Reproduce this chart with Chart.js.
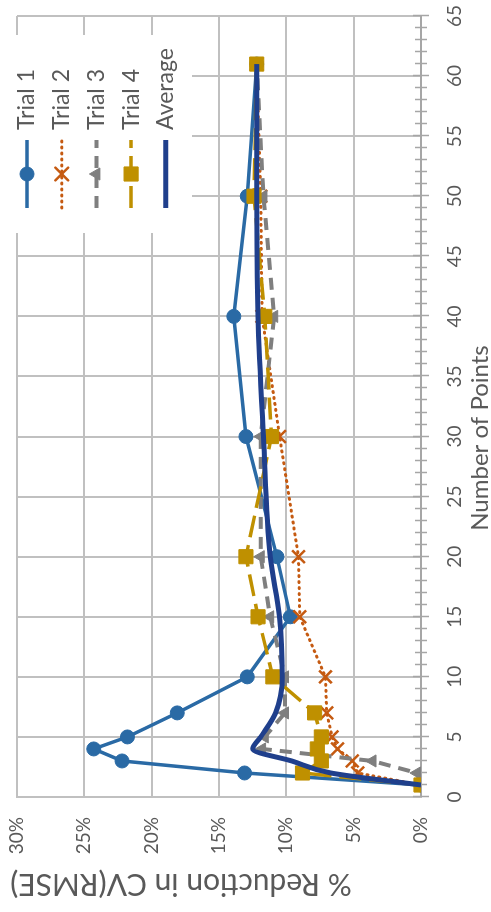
<!DOCTYPE html>
<html>
<head>
<meta charset="utf-8">
<script src="https://cdn.jsdelivr.net/npm/chart.js@4/dist/chart.umd.min.js"></script>
<style>
  html, body { margin: 0; padding: 0; background: #ffffff; overflow: hidden; }
  /* the chart is laid out landscape and turned a quarter turn counter-clockwise */
  #wrap {
    position: absolute; left: 0; top: 0;
    width: 912px; height: 491px;
    transform-origin: 0 0;
    transform: translateY(912px) rotate(-90deg);
  }
</style>
</head>
<body>
<div id="wrap"><canvas id="c" width="912" height="491"></canvas></div>
<script>
// Number of points used in each run
const points  = [1, 2, 3, 4, 5, 7, 10, 15, 20, 30, 40, 50, 61];

// % reduction in CV(RMSE) for each trial
const trial1  = [0, 13.1, 22.2, 24.3, 21.8, 18.1, 12.9, 9.7, 10.7, 13.0, 13.9, 12.9, 12.2];
const trial2  = [0, 4.7, 5.1, 6.2, 6.6, 7.0, 7.1, 9.0, 9.1, 10.5, 11.8, 11.9, 12.2];
const trial3  = [0, 0.3, 3.6, 11.8, 11.6, 10.1, 10.1, 11.2, 11.9, 11.9, 10.9, 11.7, 12.2];
const trial4  = [0, 8.8, 7.4, 7.7, 7.4, 7.9, 11.0, 12.1, 13.0, 11.1, 11.6, 12.4, 12.2];
const average = [0, 6.7, 9.6, 12.5, 11.9, 10.8, 10.3, 10.5, 11.2, 11.7, 12.1, 12.2, 12.2];

const seriesNames = ['Trial 1', 'Trial 2', 'Trial 3', 'Trial 4', 'Average'];
const xAxisTitle = 'Number of Points';
const yAxisTitle = '% Reduction in CV(RMSE)';

const FONT = 'Lato, "Open Sans", "Liberation Sans", sans-serif';
const TEXT = '#595959';
const GRID = '#c0c0c0';

const toXY = vals => vals.map((v, i) => ({ x: points[i], y: v }));

const datasets = [
  { label: seriesNames[0], data: toXY(trial1), borderColor: '#2a6aa5', backgroundColor: '#2a6aa5',
    borderWidth: 3.5, pointStyle: 'circle', pointRadius: 7, pointBorderWidth: 1, order: 5 },
  { label: seriesNames[1], data: toXY(trial2), borderColor: '#c55a11', backgroundColor: '#c55a11',
    borderWidth: 3, borderDash: [1, 5], borderCapStyle: 'round', pointStyle: 'crossRot', pointRadius: 9,
    pointBorderWidth: 2.5, order: 4 },
  { label: seriesNames[2], data: toXY(trial3), borderColor: '#7f7f7f', backgroundColor: '#7f7f7f',
    borderWidth: 4, borderDash: [12, 8], pointStyle: 'triangle', pointRadius: 7, pointBorderWidth: 1, order: 3 },
  { label: seriesNames[3], data: toXY(trial4), borderColor: '#bf9000', backgroundColor: '#bf9000',
    borderWidth: 3.5, borderDash: [22, 8], pointStyle: 'rect', pointRadius: 10, pointBorderWidth: 1, order: 2 },
  { label: seriesNames[4], data: toXY(average), borderColor: '#1f3f8c', backgroundColor: '#1f3f8c',
    borderWidth: 5, pointRadius: 0, cubicInterpolationMode: 'monotone', order: 1 }
];

// Tick marks on the category axis (every point, crossing the axis line)
const axisTicks = {
  id: 'axisTicks',
  beforeDatasetsDraw(chart) {
    const { ctx, scales: { x }, chartArea } = chart;
    ctx.save();
    ctx.strokeStyle = '#a6a6a6';
    ctx.lineWidth = 1.5;
    for (let v = 0; v <= 65; v++) {
      const px = Math.round(x.getPixelForValue(v)) + 0.5;
      const len = v % 5 === 0 ? 8 : 6;
      ctx.beginPath();
      ctx.moveTo(px, chartArea.bottom - len);
      ctx.lineTo(px, chartArea.bottom + len);
      ctx.stroke();
    }
    ctx.restore();
  }
};

// Axis titles
const axisTitles = {
  id: 'axisTitles',
  afterDraw(chart) {
    const { ctx } = chart;
    ctx.save();
    ctx.fillStyle = TEXT;
    ctx.textAlign = 'center';
    ctx.textBaseline = 'middle';
    ctx.font = '24px ' + FONT;
    ctx.fillText(xAxisTitle, 474, 480);
    ctx.translate(28, 181);
    ctx.rotate(-Math.PI / 2);
    ctx.font = '30px ' + FONT;
    ctx.fillText(yAxisTitle, 0, 0);
    ctx.restore();
  }
};

// Legend box drawn inside the plot, one row per series
const boxLegend = {
  id: 'boxLegend',
  afterDraw(chart) {
    const { ctx } = chart;
    const box = { left: 679, top: 8, right: 877, bottom: 192 };
    ctx.save();
    ctx.fillStyle = '#ffffff';
    ctx.fillRect(box.left, box.top, box.right - box.left, box.bottom - box.top);
    chart.data.datasets.forEach((ds, i) => {
      const cy = 27 + i * 34.7;
      ctx.save();
      ctx.strokeStyle = ds.borderColor;
      ctx.lineWidth = ds.borderWidth;
      ctx.lineCap = ds.borderCapStyle || 'butt';
      ctx.setLineDash(ds.borderDash || []);
      ctx.beginPath();
      ctx.moveTo(704, cy);
      ctx.lineTo(772, cy);
      ctx.stroke();
      ctx.setLineDash([]);
      if (ds.pointRadius > 0) {
        ctx.fillStyle = ds.backgroundColor;
        ctx.strokeStyle = ds.borderColor;
        ctx.lineWidth = ds.pointBorderWidth;
        Chart.helpers.drawPoint(ctx, { pointStyle: ds.pointStyle, radius: ds.pointRadius,
          rotation: 0, borderWidth: ds.pointBorderWidth }, 738, cy);
      }
      ctx.restore();
      ctx.fillStyle = TEXT;
      ctx.font = '23px ' + FONT;
      ctx.textAlign = 'left';
      ctx.textBaseline = 'middle';
      ctx.fillText(ds.label, 782, cy);
    });
    ctx.restore();
  }
};

// Plot area edges come from the layout padding alone
const noEdgePadding = s => { s.paddingTop = 0; s.paddingBottom = 0; s.paddingLeft = 0; s.paddingRight = 0; };

new Chart(document.getElementById('c'), {
  type: 'line',
  data: { datasets },
  plugins: [axisTicks, axisTitles, boxLegend],
  options: {
    responsive: false,
    animation: false,
    devicePixelRatio: 1,
    layout: { autoPadding: false, padding: { left: 0, right: 16, top: 17, bottom: 0 } },
    plugins: { legend: { display: false }, tooltip: { enabled: false } },
    scales: {
      x: {
        type: 'linear', position: 'bottom', min: 0, max: 65,
        afterFit: s => { s.height = 70; noEdgePadding(s); },
        ticks: { stepSize: 5, padding: 22, color: TEXT, font: { family: FONT, size: 19 }, maxRotation: 0 },
        grid: { color: GRID, lineWidth: 2, drawTicks: false },
        border: { color: '#a6a6a6', width: 2 },
        title: { display: false }
      },
      y: {
        type: 'linear', min: 0, max: 30,
        afterFit: s => { s.width = 115; noEdgePadding(s); },
        ticks: { stepSize: 5, padding: 20, color: TEXT, font: { family: FONT, size: 19 },
          callback: v => v + '%' },
        grid: { color: GRID, lineWidth: 2, drawTicks: false },
        border: { color: GRID, width: 2 },
        title: { display: false }
      }
    }
  }
});
</script>
</body>
</html>
